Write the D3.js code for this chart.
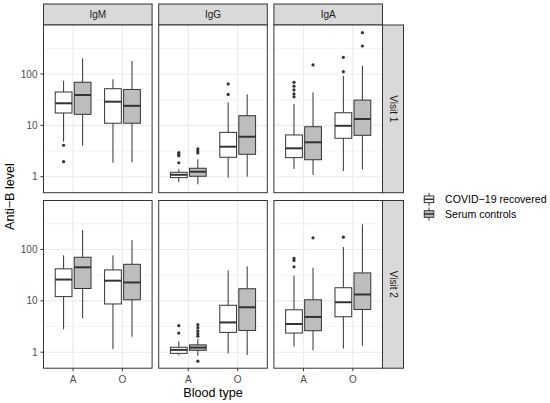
<!DOCTYPE html>
<html><head><meta charset="utf-8">
<script src="https://cdn.jsdelivr.net/npm/d3@7"></script>
<style>body{margin:0;background:#fff}svg{display:block}text{font-family:"Liberation Sans",Arial,sans-serif}</style>
</head><body>
<svg id="c" width="550" height="403"></svg>
<script>
const antibodies = ["IgM", "IgG", "IgA"];
const visits = ["Visit 1", "Visit 2"];
const bloodTypes = ["A", "O"];
const groups = ["COVID\u221219 recovered", "Serum controls"];
const yTicks = [1, 10, 100];
const yMinorTicks = [3.162, 31.62, 316.2];

// rows: [antibody, bloodType, group index, lowWhisker, q1, median, q3, highWhisker]
const visit1Stats = [
  ["IgM","A",0, 4.8, 17.4, 26.9, 44.6, 74],
  ["IgM","A",1, 4.0, 16.4, 39, 69, 202],
  ["IgM","O",0, 1.87, 11, 28.9, 51.7, 79],
  ["IgM","O",1, 1.9, 11, 24, 50, 179],
  ["IgG","A",0, 0.78, 0.96, 1.09, 1.22, 1.39],
  ["IgG","A",1, 0.71, 1.02, 1.25, 1.46, 2.18],
  ["IgG","O",0, 0.96, 2.39, 3.84, 7.3, 28],
  ["IgG","O",1, 1.0, 2.73, 6.0, 15.4, 40],
  ["IgA","A",0, 1.41, 2.35, 3.57, 6.5, 26],
  ["IgA","A",1, 1.08, 2.14, 4.68, 9.4, 44],
  ["IgA","O",0, 1.29, 5.6, 9.8, 17.6, 91],
  ["IgA","O",1, 1.39, 6.4, 13.3, 31, 145]
];
const visit1Outliers = [
  ["IgM","A",0, [4.1, 1.96]],
  ["IgG","A",0, [1.87, 2.55, 2.75, 2.95]],
  ["IgG","A",1, [2.9, 3.2, 3.5]],
  ["IgG","O",0, [40, 64]],
  ["IgA","A",0, [36, 41, 49, 58, 69]],
  ["IgA","A",1, [150]],
  ["IgA","O",0, [111, 211]],
  ["IgA","O",1, [351, 637]]
];
const visit2Stats = [
  ["IgM","A",0, 2.8, 12.1, 26, 42, 77],
  ["IgM","A",1, 4.56, 17.4, 45, 70.6, 239],
  ["IgM","O",0, 1.15, 8.7, 24.7, 40, 77],
  ["IgM","O",1, 2.0, 10.5, 22.8, 51.5, 152],
  ["IgG","A",0, 0.87, 0.95, 1.11, 1.25, 1.64],
  ["IgG","A",1, 0.85, 1.09, 1.23, 1.39, 1.8],
  ["IgG","O",0, 0.95, 2.43, 3.8, 8.2, 39],
  ["IgG","O",1, 0.88, 2.65, 7.5, 17.2, 47],
  ["IgA","A",0, 1.29, 2.36, 3.54, 6.7, 31],
  ["IgA","A",1, 1.09, 2.62, 4.86, 10.5, 44],
  ["IgA","O",0, 1.18, 4.9, 9.4, 18, 112],
  ["IgA","O",1, 1.33, 6.8, 13.3, 35, 309]
];
const visit2Outliers = [
  ["IgG","A",0, [2.36, 3.28]],
  ["IgG","A",1, [2.05, 2.3, 2.6, 3.0, 3.43, 0.67]],
  ["IgA","A",0, [46, 61, 67]],
  ["IgA","A",1, [169]],
  ["IgA","O",0, [174]]
];
const statsByVisit = [visit1Stats, visit2Stats];
const outliersByVisit = [visit1Outliers, visit2Outliers];
const groupFills = ["#ffffff", "#bdbdbd"];

const svg = d3.select("#c");
const left = 43.5, panelW = 108.6, gapX = 6.6;
const rowTops = [25, 200.5], panelH = 167.7;
const stripH = 21, stripTop = 4;
const lineCol = "#333333", border = "#333333";
const smallFont = 10, titleFont = 12.6, legendFont = 10.6;

const x = d3.scalePoint().domain(bloodTypes).range([0, panelW]).padding(0.6);
const s = x.step();
const dodge = d3.scaleBand().domain(groups).range([-0.3625 * s, 0.3625 * s]).paddingInner(0.12);
const bw = dodge.bandwidth();

antibodies.forEach((ab, ci) => {
  const px = left + ci * (panelW + gapX);
  svg.append("rect").attr("x", px).attr("y", stripTop).attr("width", panelW).attr("height", stripH)
    .attr("fill", "#d9d9d9").attr("stroke", border).attr("stroke-width", 1);
  svg.append("text").attr("x", px + panelW / 2).attr("y", stripTop + stripH / 2).attr("dy", "0.35em")
    .attr("text-anchor", "middle").attr("font-size", smallFont).attr("fill", "#1a1a1a").text(ab);

  visits.forEach((v, ri) => {
    const py = rowTops[ri];
    const y = d3.scaleLog().domain([0.488, 900]).range([py + panelH, py]);
    const g = svg.append("g");
    g.append("rect").attr("x", px).attr("y", py).attr("width", panelW).attr("height", panelH).attr("fill", "#fff");
    yMinorTicks.forEach(t => g.append("line").attr("x1", px).attr("x2", px + panelW)
      .attr("y1", y(t)).attr("y2", y(t)).attr("stroke", "#ebebeb").attr("stroke-width", 0.6));
    yTicks.forEach(t => g.append("line").attr("x1", px).attr("x2", px + panelW)
      .attr("y1", y(t)).attr("y2", y(t)).attr("stroke", "#ebebeb").attr("stroke-width", 1.1));
    bloodTypes.forEach(b => g.append("line").attr("x1", px + x(b)).attr("x2", px + x(b))
      .attr("y1", py).attr("y2", py + panelH).attr("stroke", "#ebebeb").attr("stroke-width", 1.1));

    statsByVisit[ri].filter(r => r[0] === ab).forEach(r => {
      const [, b, gi, lo, q1, med, q3, hi] = r;
      const cx = px + x(b) + dodge(groups[gi]) + bw / 2;
      g.append("line").attr("x1", cx).attr("x2", cx).attr("y1", y(hi)).attr("y2", y(q3)).attr("stroke", lineCol).attr("stroke-width", 1);
      g.append("line").attr("x1", cx).attr("x2", cx).attr("y1", y(q1)).attr("y2", y(lo)).attr("stroke", lineCol).attr("stroke-width", 1);
      g.append("rect").attr("x", cx - bw / 2).attr("y", y(q3)).attr("width", bw).attr("height", y(q1) - y(q3))
        .attr("fill", groupFills[gi]).attr("stroke", lineCol).attr("stroke-width", 1);
      g.append("line").attr("x1", cx - bw / 2).attr("x2", cx + bw / 2).attr("y1", y(med)).attr("y2", y(med))
        .attr("stroke", lineCol).attr("stroke-width", 2);
    });
    outliersByVisit[ri].filter(r => r[0] === ab).forEach(r => {
      const [, b, gi, vals] = r;
      const cx = px + x(b) + dodge(groups[gi]) + bw / 2;
      vals.forEach(val => g.append("circle").attr("cx", cx).attr("cy", y(val)).attr("r", 1.6).attr("fill", lineCol));
    });

    g.append("rect").attr("x", px).attr("y", py).attr("width", panelW).attr("height", panelH)
      .attr("fill", "none").attr("stroke", border).attr("stroke-width", 1);

    if (ci === 0) {
      yTicks.forEach(t => {
        g.append("line").attr("x1", px - 3).attr("x2", px).attr("y1", y(t)).attr("y2", y(t)).attr("stroke", border);
        g.append("text").attr("x", px - 6).attr("y", y(t)).attr("dy", "0.35em").attr("text-anchor", "end")
          .attr("font-size", smallFont).attr("fill", "#4d4d4d").text(d3.format("d")(t));
      });
    }
    if (ri === 1) {
      bloodTypes.forEach(b => {
        g.append("line").attr("x1", px + x(b)).attr("x2", px + x(b)).attr("y1", py + panelH).attr("y2", py + panelH + 3).attr("stroke", border);
        g.append("text").attr("x", px + x(b)).attr("y", py + panelH + 14.5).attr("text-anchor", "middle")
          .attr("font-size", smallFont).attr("fill", "#4d4d4d").text(b);
      });
    }
    if (ci === antibodies.length - 1) {
      const sx = px + panelW;
      svg.append("rect").attr("x", sx).attr("y", py).attr("width", stripH).attr("height", panelH)
        .attr("fill", "#d9d9d9").attr("stroke", border).attr("stroke-width", 1);
      svg.append("text").attr("transform", `translate(${sx + stripH / 2},${py + panelH / 2}) rotate(90)`)
        .attr("dy", "0.35em").attr("text-anchor", "middle").attr("font-size", smallFont).attr("fill", "#1a1a1a").text(v);
    }
  });
});

const areaRight = left + 3 * panelW + 2 * gapX;
svg.append("text").attr("x", (left + areaRight) / 2).attr("y", 396.5).attr("text-anchor", "middle")
  .attr("font-size", titleFont).attr("fill", "#000").text("Blood type");
svg.append("text").attr("transform", `translate(14,${(rowTops[0] + rowTops[1] + panelH) / 2}) rotate(-90)`)
  .attr("text-anchor", "middle").attr("font-size", titleFont).attr("fill", "#000").text("Anti\u2212B level");

const legY = [199.3, 214];
groups.forEach((gname, i) => {
  const kx = 429, ky = legY[i], kh = 13, kw = 9.5;
  const lg = svg.append("g");
  lg.append("line").attr("x1", kx).attr("x2", kx).attr("y1", ky - kh * 0.5).attr("y2", ky + kh * 0.5).attr("stroke", lineCol);
  lg.append("rect").attr("x", kx - kw / 2).attr("y", ky - 3.3).attr("width", kw).attr("height", 6.6)
    .attr("fill", groupFills[i]).attr("stroke", lineCol);
  lg.append("line").attr("x1", kx - kw / 2).attr("x2", kx + kw / 2).attr("y1", ky).attr("y2", ky).attr("stroke", lineCol).attr("stroke-width", 1.6);
  lg.append("text").attr("x", 445).attr("y", ky).attr("dy", "0.35em").attr("font-size", legendFont).attr("fill", "#000").text(gname);
});
</script>
</body></html>
